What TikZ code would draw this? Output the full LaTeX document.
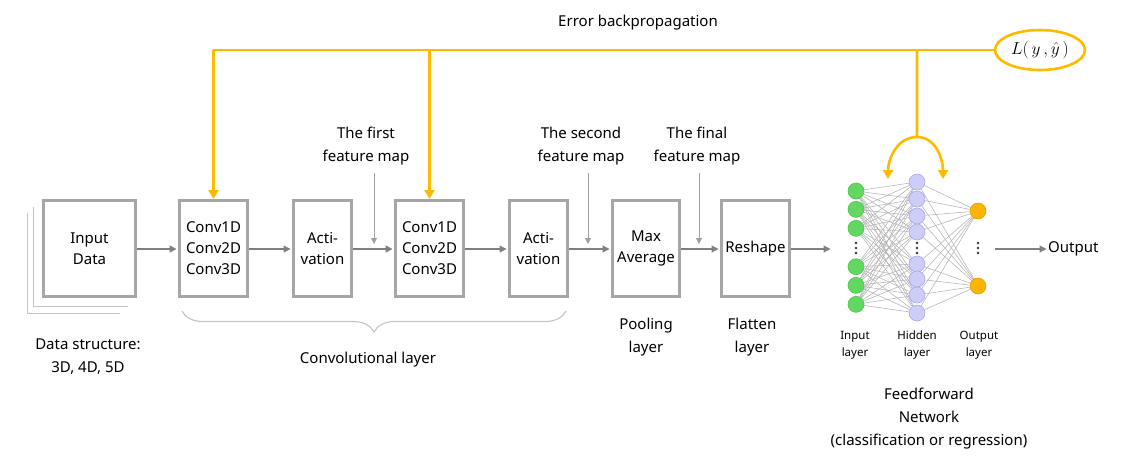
\documentclass[tikz,border=0pt]{standalone}
\usepackage{fontspec}
\setmainfont{Noto Sans}
\usetikzlibrary{arrows.meta,decorations.pathreplacing,shapes.geometric,backgrounds}
\definecolor{boxgray}{HTML}{A6A6A6}
\definecolor{arrgray}{HTML}{808080}
\definecolor{lightln}{HTML}{C4C4C4}
\definecolor{orng}{HTML}{FFBA00}
\definecolor{ingreen}{HTML}{62D862}
\definecolor{ingreenb}{HTML}{4CC44C}
\definecolor{hidlav}{HTML}{CDCDF8}
\definecolor{hidlavb}{HTML}{A8A8E6}
\definecolor{outorg}{HTML}{F9B500}
\definecolor{outorgb}{HTML}{E3A200}
\definecolor{netln}{HTML}{B4B4B4}
\begin{document}
\begin{tikzpicture}[x=1pt,y=-1pt,
  blk/.style={draw=boxgray, line width=3pt, fill=white, inner sep=0pt, align=center,
    minimum height=96pt, font=\fontsize{15}{21}\selectfont},
  txt/.style={align=center, inner sep=0pt, font=\fontsize{15}{23}\selectfont},
  smalltxt/.style={align=center, inner sep=0pt, font=\fontsize{11.5}{17}\selectfont},
  flow/.style={draw=arrgray, line width=1.2pt, -{Triangle[length=7pt,width=7pt]}, shorten >=1.5pt},
  fmarr/.style={draw=arrgray!75, line width=0.9pt, -{Triangle[length=6pt,width=6pt]}},
  bp/.style={draw=orng, line width=2.6pt, line join=round},
  bparr/.style={bp, -{Triangle[length=9pt,width=10pt]}},
  inn/.style={circle, minimum size=16pt, inner sep=0pt, fill=ingreen, draw=ingreenb, line width=0.6pt},
  hid/.style={circle, minimum size=16pt, inner sep=0pt, fill=hidlav, draw=hidlavb, line width=0.6pt},
  outn/.style={circle, minimum size=16pt, inner sep=0pt, fill=outorg, draw=outorgb, line width=0.6pt},
  dotn/.style={circle, minimum size=2.8pt, inner sep=0pt, fill=black!80},
  nline/.style={draw=netln, line width=0.55pt},
  stackline/.style={draw=lightln, line width=1pt},
]
\useasboundingbox (0,0) rectangle (1148,472);

% ---- main blocks
\node[blk, minimum width=92pt] (inp) at (89.5,248.5) {Input\\Data};
\node[blk, minimum width=68pt] (c1) at (213.5,248.5) {Conv1D\\Conv2D\\Conv3D};
\node[blk, minimum width=58pt] (a1) at (322.5,248.5) {Acti-\\vation};
\node[blk, minimum width=68pt] (c2) at (429.5,248.5) {Conv1D\\Conv2D\\Conv3D};
\node[blk, minimum width=58pt] (a2) at (538.5,248.5) {Acti-\\vation};
\node[blk, minimum width=67pt] (pool) at (646,248.5) {Max\\Average};
\node[blk, minimum width=68pt] (resh) at (755.5,248.5) {Reshape};

% stacked sheets behind the input
\begin{scope}[on background layer]
\draw[stackline] (33,207) -- (33,306) -- (128,306);
\draw[stackline] (27,213) -- (27,313) -- (120,313);
\end{scope}

% ---- flow arrows
\draw[flow] (inp.east |- 0,249) -- (c1.west |- 0,249);
\draw[flow] (c1.east |- 0,249) -- (a1.west |- 0,249);
\draw[flow] (a1.east |- 0,249) -- (c2.west |- 0,249);
\draw[flow] (c2.east |- 0,249) -- (a2.west |- 0,249);
\draw[flow] (a2.east |- 0,249) -- (pool.west |- 0,249);
\draw[flow] (pool.east |- 0,249) -- (resh.west |- 0,249);
\coordinate (netin) at (832,249);
\draw[flow] (resh.east |- 0,249) -- (netin);

% ---- feature map labels
\node[txt] (fm1) at (366,146) {The first\\feature map};
\node[txt] (fm2) at (581,146) {The second\\feature map};
\node[txt] (fm3) at (697,146) {The final\\feature map};
\coordinate (fm1a) at (374,173); \coordinate (fm1b) at (374,244);
\coordinate (fm2a) at (588,173); \coordinate (fm2b) at (588,244);
\coordinate (fm3a) at (699,173); \coordinate (fm3b) at (699,244);
\draw[fmarr] (fm1a) -- (fm1b);
\draw[fmarr] (fm2a) -- (fm2b);
\draw[fmarr] (fm3a) -- (fm3b);

% ---- captions
\node[txt] (ds) at (88,357) {Data structure:\\3D, 4D, 5D};
\node[txt] (convl) at (368,360) {Convolutional layer};
\node[txt] (pooll) at (646,337) {Pooling\\layer};
\node[txt] (flatl) at (752,337) {Flatten\\layer};
\node[txt] (ffn) at (929,419) {Feedforward\\Network\\(classification or regression)};
\node[txt] (ebp) at (638,23) {Error backpropagation};

% brace
\draw[draw=lightln, line width=1.1pt, decorate, decoration={brace, mirror, amplitude=21pt}]
  (182,311) -- (566,311);

% ---- neural network
\foreach \i/\y in {1/191,2/209.3,3/228.3,4/266.7,5/285.3,6/304.3}
  \node[inn] (i\i) at (856,\y) {};
\foreach \i/\y in {1/182,2/199,3/216,4/232,5/264,6/279,7/295,8/313}
  \node[hid] (h\i) at (917,\y) {};
\node[outn] (o1) at (978,211) {};
\node[outn] (o2) at (978,286) {};
\foreach \x in {856,917,978}{
  \node[dotn] at (\x,243) {};
  \node[dotn] at (\x,248) {};
  \node[dotn] at (\x,253) {};
}
\begin{scope}[on background layer]
\foreach \i in {1,...,6}
  \foreach \j in {1,...,8}
    \draw[nline] (i\i) -- (h\j);
\foreach \j in {1,...,8}
  \foreach \k in {1,2}
    \draw[nline] (h\j) -- (o\k);
\end{scope}

\node[smalltxt] (il) at (855,345) {Input\\layer};
\node[smalltxt] (hl) at (917,345) {Hidden\\layer};
\node[smalltxt] (ol) at (979,345) {Output\\layer};

% output
\node[txt, anchor=west] (outp) at (1048,249) {Output};
\coordinate (outstart) at (995,249);
\draw[flow] (outstart) -- (outp.west);

% ---- error backpropagation (orange)
\node[ellipse, draw=orng, line width=2.6pt, fill=white, minimum width=90pt, minimum height=40pt,
  inner sep=0pt, font=\fontsize{17}{20}\selectfont] (loss) at (1040,50) {$L(\,y\,,\hat{y}\,)$};
\draw[bparr] (loss.west) -| (c1.north);
\coordinate (t2) at (c2.north |- loss.west);
\draw[bparr] (t2) -- (c2.north);
\coordinate (t3) at (917,50);
\coordinate (bl) at (888,179);
\coordinate (br) at (943,179);
\draw[bparr] (t3) -- (917,137) to[out=180,in=90] (bl);
\draw[bparr] (917,137) to[out=0,in=90] (br);
\end{tikzpicture}
\end{document}
